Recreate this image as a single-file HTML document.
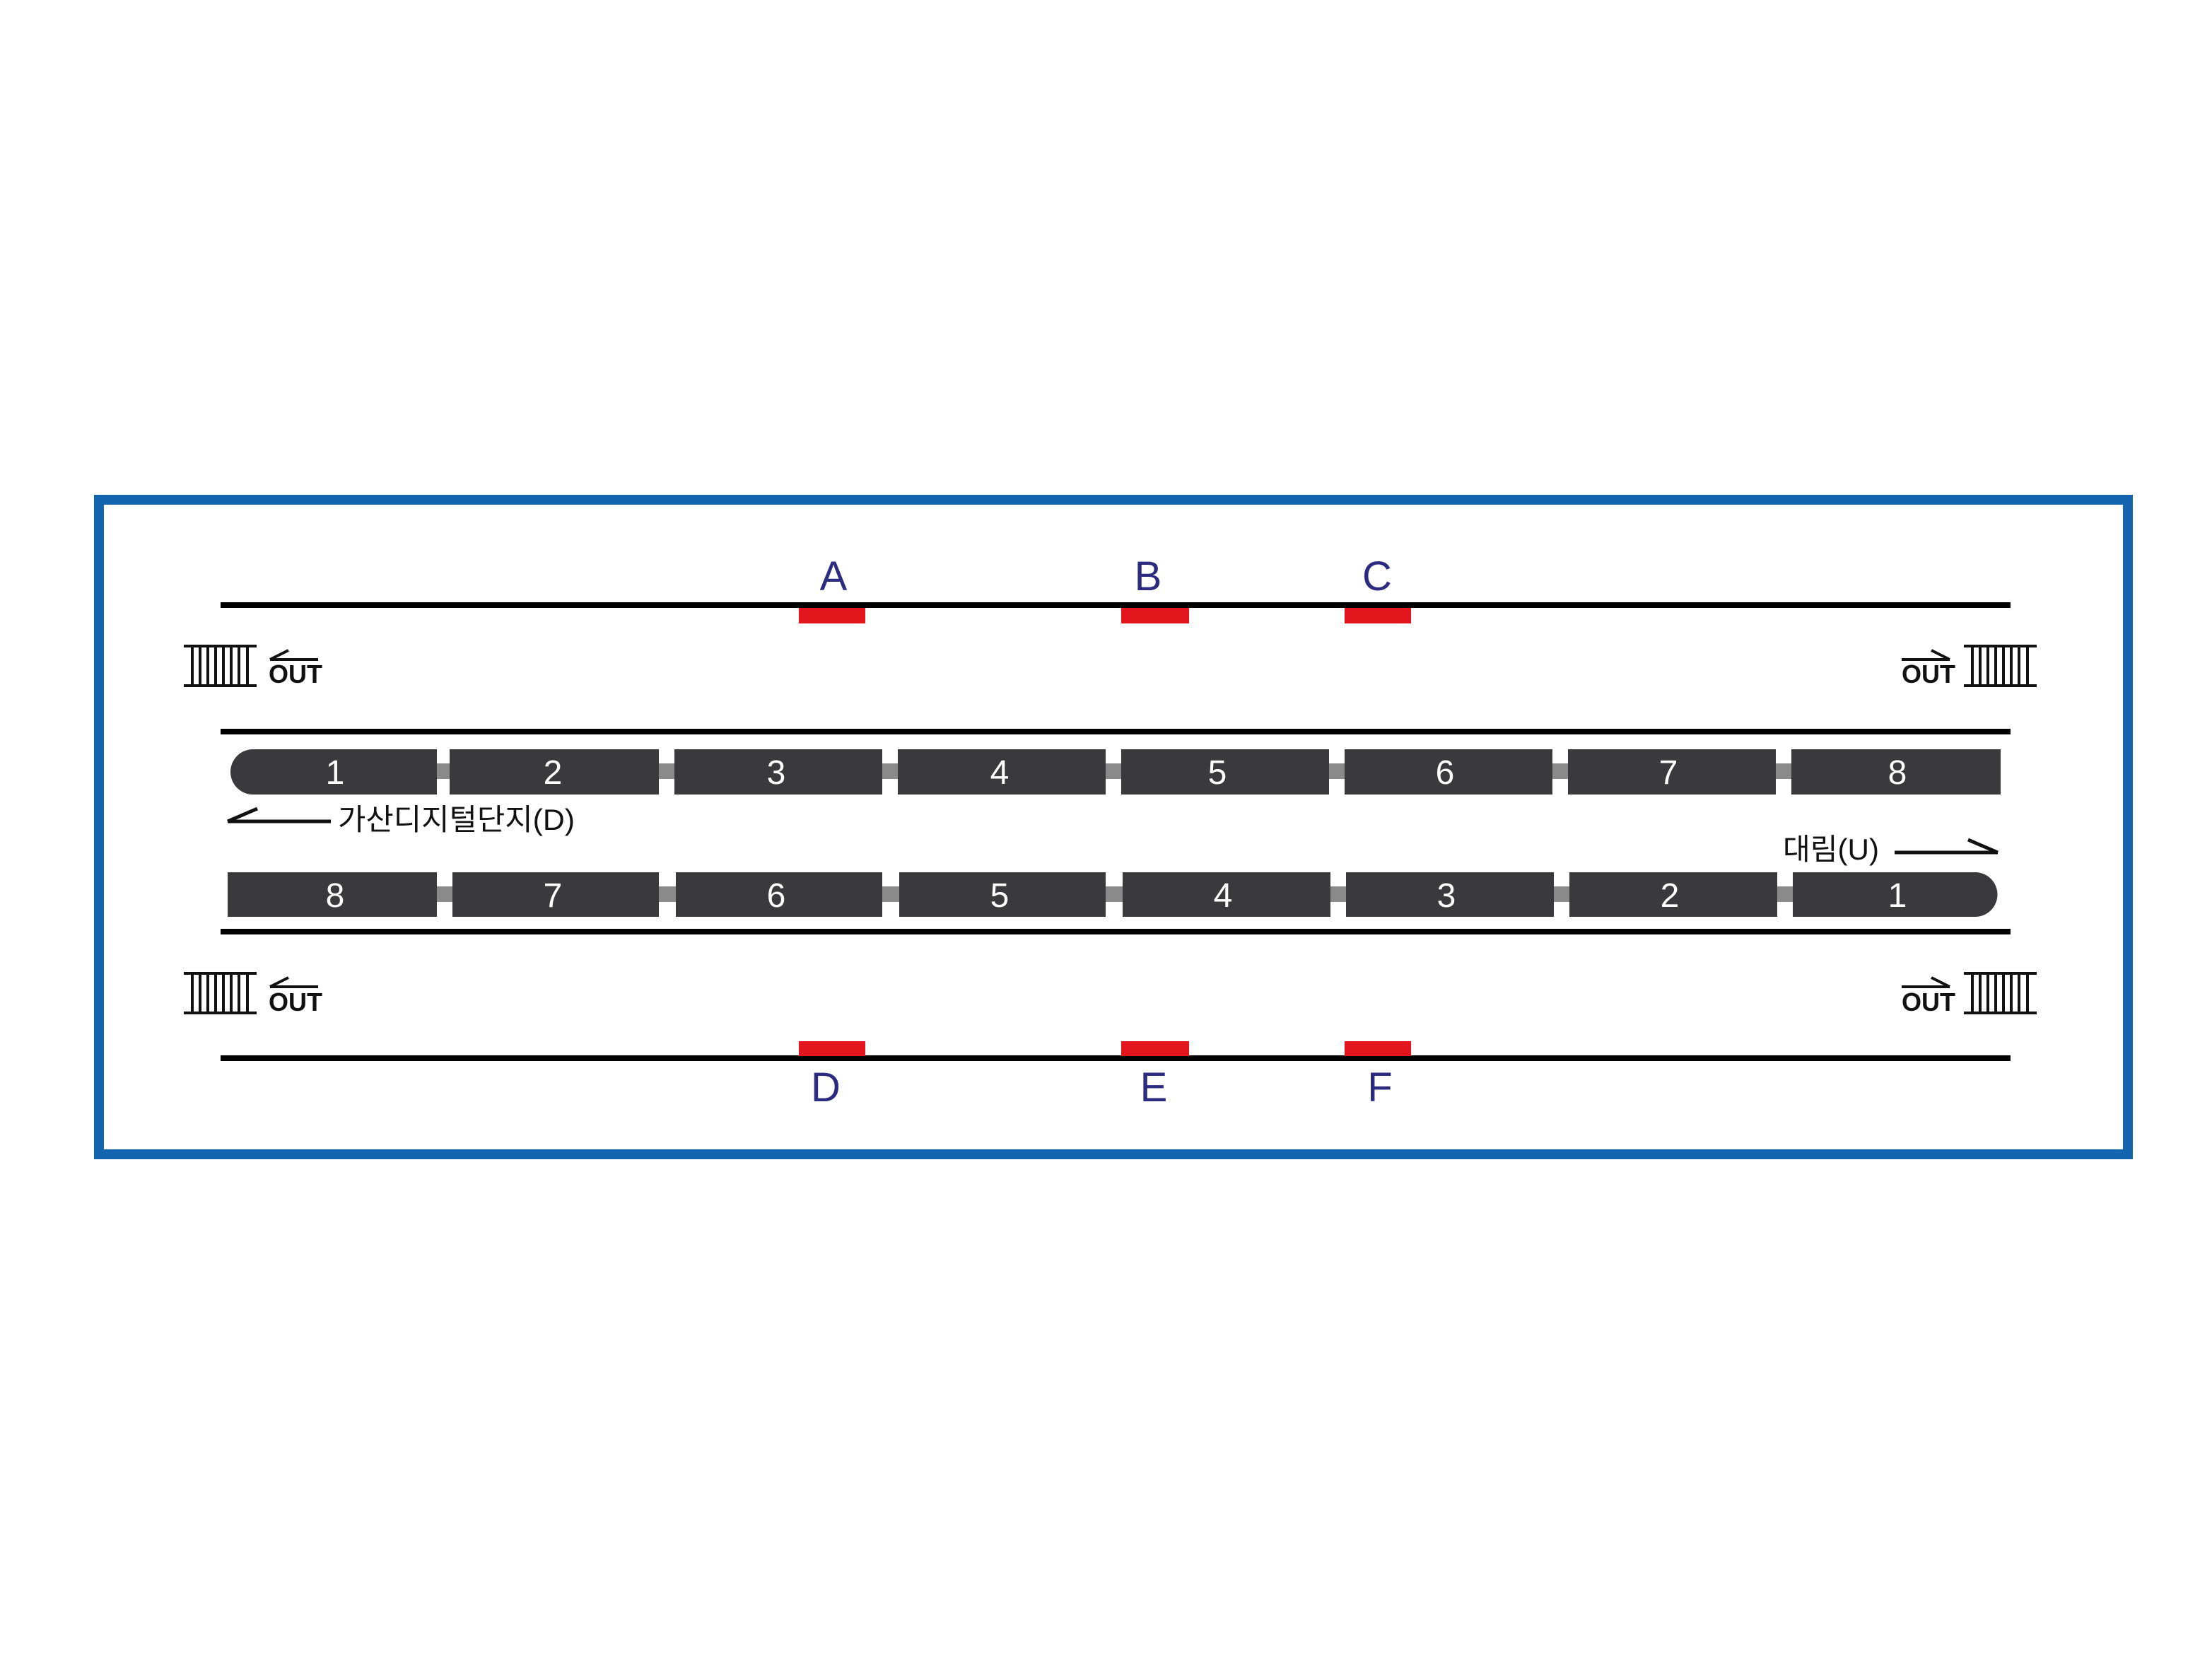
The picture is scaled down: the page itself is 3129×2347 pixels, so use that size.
<!DOCTYPE html>
<html><head><meta charset="utf-8"><style>html,body{margin:0;padding:0;background:#fff}svg{display:block}</style></head>
<body>
<svg width="3129" height="2347" viewBox="0 0 3129 2347" xmlns="http://www.w3.org/2000/svg">
<rect x="0" y="0" width="3129" height="2347" fill="#fff"/>
<rect x="140" y="707" width="2870" height="926" fill="none" stroke="#1265ae" stroke-width="14"/>
<g fill="#000">
<rect x="312" y="852" width="2532" height="8"/>
<rect x="312" y="1031" width="2532" height="8"/>
<rect x="312" y="1314" width="2532" height="8"/>
<rect x="312" y="1493" width="2532" height="8"/>
</g>
<g fill="#e3151d">
<rect x="1130" y="860" width="94" height="22"/>
<rect x="1586" y="860" width="96" height="22"/>
<rect x="1902" y="860" width="94" height="22"/>
<rect x="1130" y="1473" width="94" height="21"/>
<rect x="1586" y="1473" width="96" height="21"/>
<rect x="1902" y="1473" width="94" height="21"/>
</g>
<g fill="#2b2c80" font-family="Liberation Sans, sans-serif" font-size="58" text-anchor="middle">
<text x="1179" y="835">A</text>
<text x="1624" y="835">B</text>
<text x="1948" y="835">C</text>
<text x="1168" y="1558">D</text>
<text x="1632" y="1558">E</text>
<text x="1952" y="1558">F</text>
</g>
<defs>
<g id="gate" stroke="#111" stroke-width="4" fill="none">
<line x1="0" y1="2" x2="103" y2="2"/><line x1="0" y1="58" x2="103" y2="58"/>
<line x1="12" y1="2" x2="12" y2="58"/><line x1="23" y1="2" x2="23" y2="58"/><line x1="34" y1="2" x2="34" y2="58"/><line x1="45" y1="2" x2="45" y2="58"/><line x1="56" y1="2" x2="56" y2="58"/><line x1="67" y1="2" x2="67" y2="58"/><line x1="78" y1="2" x2="78" y2="58"/><line x1="90" y1="2" x2="90" y2="58"/>
</g>
</defs>
<use href="#gate" x="260" y="912"/>
<use href="#gate" x="260" y="1375"/>
<use href="#gate" x="2778" y="912"/>
<use href="#gate" x="2778" y="1375"/>
<g font-family="Liberation Sans, sans-serif" font-weight="bold" font-size="36" fill="#111">
<text x="380" y="966">OUT</text><text x="380" y="1430">OUT</text>
<text x="2690" y="966">OUT</text><text x="2690" y="1430">OUT</text>
</g>
<g stroke="#111" stroke-width="4" fill="none">
<path d="M382 933 L450 933 M382 933 L408 920"/>
<path d="M382 1396 L450 1396 M382 1396 L408 1383"/>
<path d="M2690 933 L2758 933 M2758 933 L2732 920"/>
<path d="M2690 1396 L2758 1396 M2758 1396 L2732 1383"/>
<path d="M322 1162 L468 1162 M322 1162 L364 1144" stroke-width="5"/>
<path d="M2680 1206 L2826 1206 M2826 1206 L2784 1188" stroke-width="5"/>
</g>
<g font-family="Liberation Sans, 'Noto Sans CJK KR', sans-serif" font-size="42" fill="#111">
<text x="478" y="1174" textLength="335" lengthAdjust="spacingAndGlyphs">가산디지털단지(D)</text>
<text x="2522" y="1216" textLength="136" lengthAdjust="spacingAndGlyphs">대림(U)</text>
</g>
<g fill="#8a8a8a">
<rect x="610" y="1080" width="1930" height="22"/>
<rect x="610" y="1254" width="1930" height="22"/>
</g>
<g fill="#3a3a3c">
<path d="M358 1060 H618 V1124 H358 A32 32 0 0 1 358 1060 Z"/>
<rect x="636" y="1060" width="296" height="64"/>
<rect x="954" y="1060" width="294" height="64"/>
<rect x="1270" y="1060" width="294" height="64"/>
<rect x="1586" y="1060" width="294" height="64"/>
<rect x="1902" y="1060" width="294" height="64"/>
<rect x="2218" y="1060" width="294" height="64"/>
<rect x="2534" y="1060" width="296" height="64"/>
<rect x="322" y="1234" width="296" height="63"/>
<rect x="640" y="1234" width="292" height="63"/>
<rect x="956" y="1234" width="292" height="63"/>
<rect x="1272" y="1234" width="292" height="63"/>
<rect x="1588" y="1234" width="294" height="63"/>
<rect x="1904" y="1234" width="294" height="63"/>
<rect x="2220" y="1234" width="294" height="63"/>
<path d="M2536 1234 H2794 A31.5 31.5 0 0 1 2794 1297 H2536 Z"/>
</g>
<g fill="#fff" font-family="Liberation Sans, sans-serif" font-size="48" text-anchor="middle">
<text x="474" y="1109">1</text><text x="782" y="1109">2</text><text x="1098" y="1109">3</text><text x="1414" y="1109">4</text>
<text x="1722" y="1109">5</text><text x="2044" y="1109">6</text><text x="2360" y="1109">7</text><text x="2684" y="1109">8</text>
<text x="474" y="1283">8</text><text x="782" y="1283">7</text><text x="1098" y="1283">6</text><text x="1414" y="1283">5</text>
<text x="1730" y="1283">4</text><text x="2046" y="1283">3</text><text x="2362" y="1283">2</text><text x="2684" y="1283">1</text>
</g>
</svg>
</body></html>
